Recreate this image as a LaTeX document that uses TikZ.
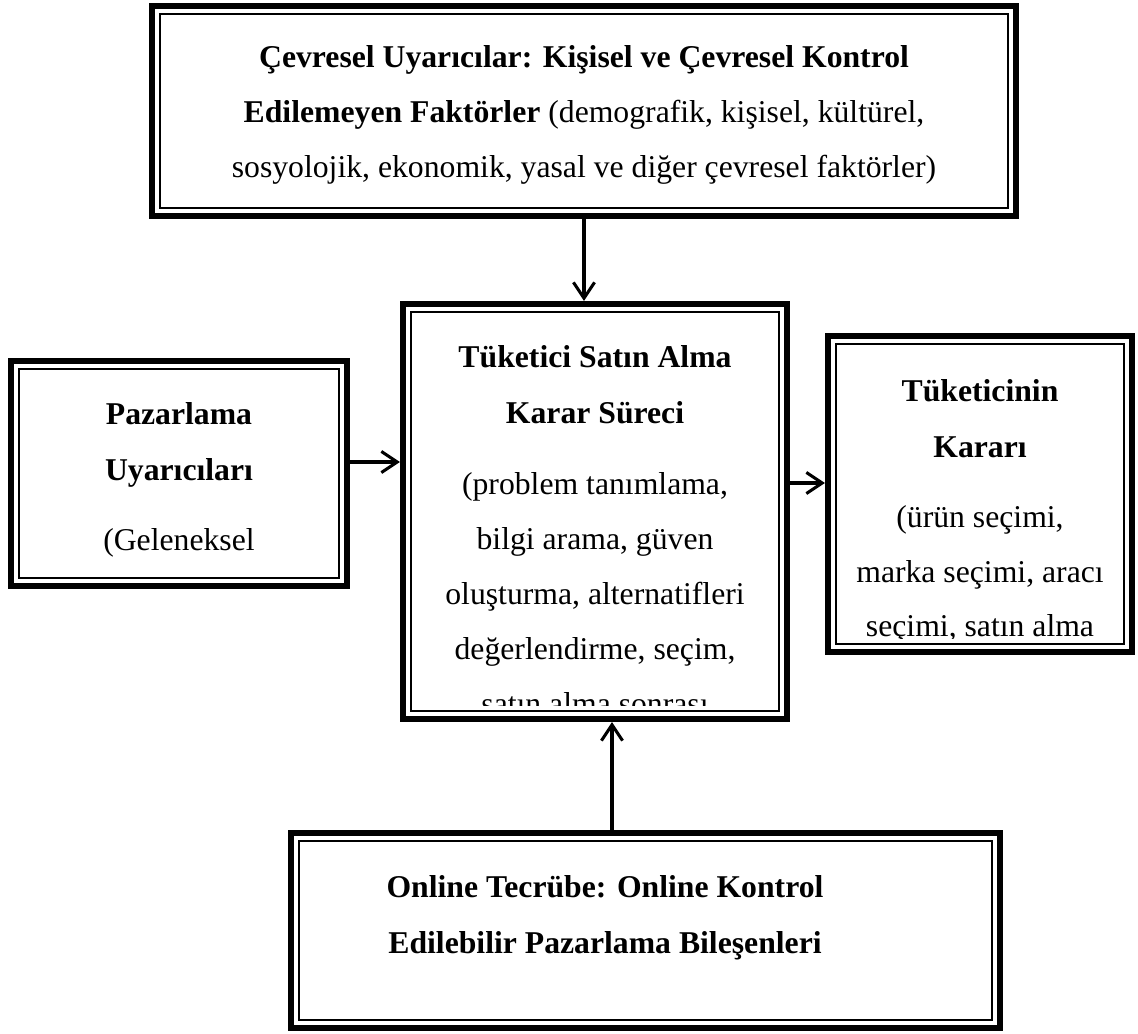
\documentclass[tikz,border=0pt]{standalone}
\usepackage{fontspec}
\setmainfont{Liberation Serif}
\usetikzlibrary{fit,arrows.meta}

\tikzset{
    dis/.style={draw, line width=2.3pt, inner sep=0pt},
    ic/.style={draw, line width=0.55pt},
    ok/.style={line width=1.15pt, -{Straight Barb[length=6pt,width=8pt,line width=1.15pt]}},
    baslik/.style={font=\fontsize{12pt}{14pt}\selectfont\bfseries, anchor=base, inner sep=0pt},
    metin/.style={font=\fontsize{12pt}{14pt}\selectfont, anchor=base, inner sep=0pt}
  }

\begin{document}
\begin{tikzpicture}[x=0.3785pt, y=-0.3785pt]
    \useasboundingbox (0,0) rectangle (1138,1034);

    % kutular
    \node[dis, fit={(152,6) (1016,216)}] (cevre) {};
    \node[dis, fit={(403,304) (787,719)}] (surec) {};
    \node[dis, fit={(11,361) (347,586)}] (pazar) {};
    \node[dis, fit={(828,336) (1132,652)}] (karar) {};
    \node[dis, fit={(291,833) (1000,1028)}] (online) {};

    \foreach \k in {cevre,surec,pazar,karar,online} {
      \draw[ic] ([shift={(11,11)}]\k.north west) rectangle ([shift={(-11,-11)}]\k.south east);
    }

    % oklar
    \draw[ok] (cevre.south) -- (cevre.south |- surec.north);
    \draw[ok] ([shift={(0,-11.5)}]pazar.east) -- ([shift={(0,-11.5)}]pazar.east -| surec.west);
    \draw[ok] ([shift={(0,-28.5)}]surec.east) -- ([shift={(0,-28.5)}]surec.east -| karar.west);
    \draw[ok] ([shift={(-33.5,0)}]online.north) -- ([shift={(-33.5,0)}]online.north |- surec.south);

    % metinler
    \begin{scope}
      \clip ([shift={(11,11)}]cevre.north west) rectangle ([shift={(-11,-17)}]cevre.south east);
      \node[baslik] (cevre1) at (584,68) {Çevresel Uyarıcılar: Kişisel ve Çevresel Kontrol};
      \node[metin] (cevre2) at (584,123) {\textbf{Edilemeyen Faktörler} (demografik, kişisel, kültürel,};
      \node[metin] (cevre3) at (584,178) {sosyolojik, ekonomik, yasal ve diğer çevresel faktörler)};
    \end{scope}

    \begin{scope}
      \clip ([shift={(11,11)}]surec.north west) rectangle ([shift={(-11,-17)}]surec.south east);
      \node[baslik] (surec1) at (595,368) {Tüketici Satın Alma};
      \node[baslik] (surec2) at (595,423) {Karar Süreci};
      \node[metin] (surec3) at (595,494) {(problem tanımlama,};
      \node[metin] (surec4) at (595,549) {bilgi arama, güven};
      \node[metin] (surec5) at (595,604) {oluşturma, alternatifleri};
      \node[metin] (surec6) at (595,659) {değerlendirme, seçim,};
      \node[metin] (surec7) at (595,714) {satın alma sonrası};
    \end{scope}

    \begin{scope}
      \clip ([shift={(11,11)}]pazar.north west) rectangle ([shift={(-11,-17)}]pazar.south east);
      \node[baslik] (pazar1) at (179,425) {Pazarlama};
      \node[baslik] (pazar2) at (179,480) {Uyarıcıları};
      \node[metin] (pazar3) at (179,550) {(Geleneksel};
      \node[metin] (pazar4) at (179,605) {pazarlama};
    \end{scope}

    \begin{scope}
      \clip ([shift={(11,11)}]karar.north west) rectangle ([shift={(-11,-17)}]karar.south east);
      \node[baslik] (karar1) at (980,402) {Tüketicinin};
      \node[baslik] (karar2) at (980,457) {Kararı};
      \node[metin] (karar3) at (980,527) {(ürün seçimi,};
      \node[metin] (karar4) at (980,582) {marka seçimi, aracı};
      \node[metin] (karar5) at (980,636) {seçimi, satın alma};
    \end{scope}

    \node[baslik] (online1) at (605,897) {Online Tecrübe: Online Kontrol};
    \node[baslik] (online2) at (605,953) {Edilebilir Pazarlama Bileşenleri};

  \end{tikzpicture}
\end{document}
